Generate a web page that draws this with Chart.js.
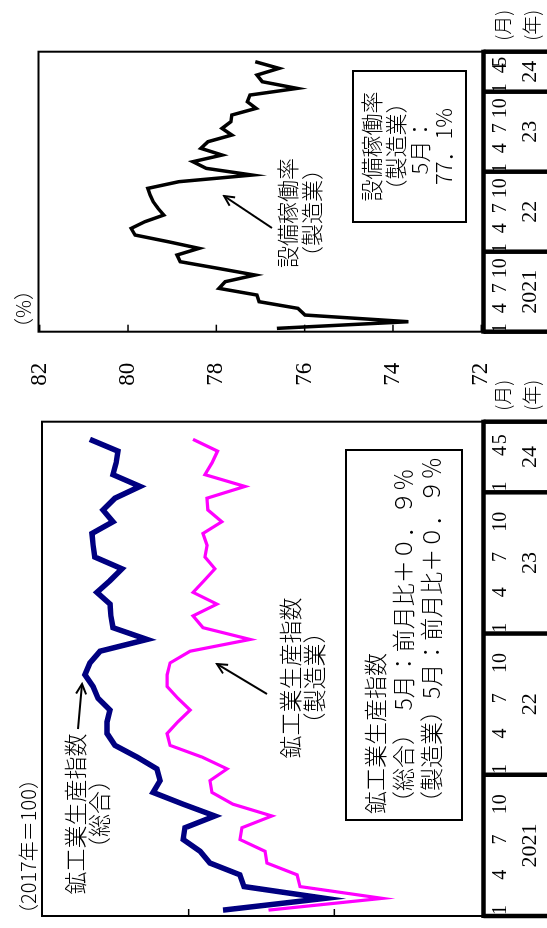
<!DOCTYPE html>
<html lang="ja">
<head>
<meta charset="utf-8">
<title>鉱工業生産指数・設備稼働率</title>
<script src="https://cdn.jsdelivr.net/npm/chart.js@4.4.1/dist/chart.umd.min.js"></script>
<style>
  html, body { margin: 0; padding: 0; background: #fff; }
  body { width: 547px; height: 928px; overflow: hidden; position: relative; }
  /* 横長の図を作って左へ90度回転させる */
  #stage {
    position: absolute; left: 0; top: 0;
    width: 928px; height: 547px;
    transform-origin: 0 0;
    transform: translateY(928px) rotate(-90deg);
    font-family: "Noto Sans CJK JP", sans-serif;
    font-weight: 300;
    color: #000;
  }
  #stage canvas { position: absolute; top: 0; }
  .note { position: absolute; white-space: nowrap; line-height: 1; text-align: center; }
  .box { position: absolute; border: 2px solid #000; box-sizing: border-box; background: #fff; }
  #arrows { position: absolute; left: 0; top: 0; }
</style>
</head>
<body>
<div id="stage">
  <canvas id="iipChart" width="580" height="547" style="left:0"></canvas>
  <canvas id="cuChart" width="408" height="547" style="left:520px"></canvas>

  <div class="note" style="left:4px; top:18px; font-size:20px;">（2017年＝100）</div>

  <div class="note" style="left:32px; top:62px; width:164px; font-size:23px; line-height:24px;">鉱工業生産指数<br>（総合）</div>
  <div class="note" style="left:168px; top:277px; width:164px; font-size:23px; line-height:24px;">鉱工業生産指数<br>（製造業）</div>

  <div class="box" style="left:107px; top:345px; width:372px; height:118px; padding:13px 0 0 5px; font-size:23px; line-height:28px;">
    鉱工業生産指数<br>（総合）　5月：前月比＋０．９％<br>（製造業）5月：前月比＋０．９％
  </div>

  <div class="note" style="left:590px; top:13px; font-size:20px;">（%）</div>
  <div class="note" style="left:659px; top:274px; width:112px; font-size:22px; line-height:24px;">設備稼働率<br>（製造業）</div>
  <div class="box" style="left:705px; top:352px; width:153px; height:115px; padding-top:4px; text-align:center; font-size:22px; line-height:24px;">
    設備稼働率<br>（製造業）<br>5月：<br>77．1%
  </div>

  <svg id="arrows" width="928" height="547">
    <defs>
      <marker id="head" markerWidth="14" markerHeight="14" refX="12" refY="7" orient="auto" markerUnits="userSpaceOnUse">
        <path d="M2,2 L12,7 L2,12" fill="none" stroke="#000" stroke-width="2"/>
      </marker>
    </defs>
    <line x1="199" y1="78" x2="244" y2="82" stroke="#000" stroke-width="2" marker-end="url(#head)"/>
    <line x1="234" y1="267" x2="264" y2="217" stroke="#000" stroke-width="2" marker-end="url(#head)"/>
    <line x1="700" y1="272" x2="732" y2="224" stroke="#000" stroke-width="2" marker-end="url(#head)"/>
  </svg>
</div>

<script>
// ===== データ（2021年1月～2024年5月、目盛り枠は6月まで） =====
const MONTHS = [
    '2021-01', '2021-02', '2021-03', '2021-04', '2021-05', '2021-06',
    '2021-07', '2021-08', '2021-09', '2021-10', '2021-11', '2021-12',
    '2022-01', '2022-02', '2022-03', '2022-04', '2022-05', '2022-06',
    '2022-07', '2022-08', '2022-09', '2022-10', '2022-11', '2022-12',
    '2023-01', '2023-02', '2023-03', '2023-04', '2023-05', '2023-06',
    '2023-07', '2023-08', '2023-09', '2023-10', '2023-11', '2023-12',
    '2024-01', '2024-02', '2024-03', '2024-04', '2024-05', '2024-06'
];

// 月の目盛りラベル（MONTHS と同じ並び）
const MONTH_TICK_LABELS = [
    '1', '', '', '4', '', '', '7', '', '', '10', '', '',
    '1', '', '', '4', '', '', '7', '', '', '10', '', '',
    '1', '', '', '4', '', '', '7', '', '', '10', '', '',
    '1', '', '', '4', '5', ''
];

const YEAR_LABELS = ['2021', '22', '23', '24'];
const YEAR_FIRST_INDEX = [0, 12, 24, 36];

// 鉱工業生産指数（総合）
const IIP_TOTAL = [
    98.82, 95.32, 98.10, 98.24, 99.27, 99.61, 100.19, 100.13, 99.10, 100.19, 101.22, 100.98,
    101.09, 101.77, 102.53, 102.80, 102.80, 102.70, 103.11, 103.28, 103.56, 103.39, 103.04, 101.43,
    102.60, 102.67, 102.70, 103.15, 102.70, 102.29, 103.22, 103.28, 103.32, 102.60, 102.94, 102.53,
    101.67, 102.60, 102.49, 102.43, 103.39
];

// 鉱工業生産指数（製造業）
const IIP_MFG = [
    97.26, 93.36, 96.18, 96.28, 97.31, 97.38, 98.24, 98.17, 97.14, 98.48, 99.20, 99.27,
    98.68, 99.54, 100.64, 100.74, 100.37, 99.95, 100.37, 100.74, 100.74, 100.64, 99.95, 97.89,
    99.51, 99.85, 99.03, 99.85, 99.47, 99.10, 99.44, 99.37, 99.51, 98.86, 99.34, 99.37,
    98.07, 99.44, 99.20, 99.01, 99.85
];

// 設備稼働率（製造業、%）
const CU_MFG = [
    76.63, 73.65, 75.99, 76.15, 77.03, 77.08, 77.94, 77.80, 77.12, 77.96, 78.82, 78.89,
    78.39, 79.09, 79.84, 79.93, 79.62, 79.19, 79.32, 79.43, 79.50, 79.55, 78.85, 77.19,
    78.23, 78.53, 77.87, 78.35, 78.19, 77.65, 77.87, 77.67, 77.65, 77.10, 77.30, 77.24,
    76.17, 76.96, 77.08, 76.58, 77.12
];

const IIP_RANGE = [90, 105];
const IIP_TICKS = [95, 100];
const CU_RANGE = [72, 82];
const CU_TICKS = [72, 74, 76, 78, 80, 82];

// ===== 枠・軸 =====
function strokeLine(ctx, x1, y1, x2, y2) {
    ctx.beginPath();
    ctx.moveTo(x1, y1);
    ctx.lineTo(x2, y2);
    ctx.stroke();
}

const frameAxisPlugin = {
    id: 'frameAxis',
    afterDatasetsDraw(chart, args, opts) {
        const { ctx, chartArea: a } = chart;
        const x = chart.scales.x;
        const y = chart.scales.y;
        const half = (x.getPixelForValue(1) - x.getPixelForValue(0)) / 2;
        const axisY = a.bottom + opts.axisGap;

        ctx.save();
        ctx.strokeStyle = '#000';
        ctx.fillStyle = '#000';

        // 枠（上・左・右）
        ctx.lineWidth = 2;
        ctx.strokeRect(a.left, opts.frameTop, a.right - a.left, axisY - opts.frameTop);

        // 横軸の太線と年の区切り
        ctx.lineWidth = 4.5;
        strokeLine(ctx, a.left - 2, axisY, a.right + 2, axisY);
        const bounds = YEAR_FIRST_INDEX.map(i => x.getPixelForValue(i) - half);
        bounds.push(x.getPixelForValue(MONTHS.length - 1) + half);
        bounds.forEach(px => strokeLine(ctx, px, axisY, px, chart.height));

        // 内向きの目盛り
        ctx.lineWidth = 1.5;
        opts.ticks.forEach(v => {
            const py = y.getPixelForValue(v);
            strokeLine(ctx, a.left, py, a.left + 7, py);
        });

        // 月・年ラベル
        ctx.textAlign = 'center';
        ctx.textBaseline = 'middle';
        ctx.font = '20px "Liberation Serif", serif';
        MONTH_TICK_LABELS.forEach((t, i) => {
            if (t) ctx.fillText(t, x.getPixelForValue(i), 501);
        });
        ctx.font = '22px "Liberation Serif", serif';
        YEAR_LABELS.forEach((t, j) => {
            ctx.fillText(t, (bounds[j] + bounds[j + 1]) / 2, 530);
        });

        ctx.textAlign = 'left';
        ctx.font = '300 19px "Noto Sans CJK JP", sans-serif';
        ctx.fillText('(月)', a.right + 11, 503);
        ctx.fillText('(年)', a.right + 11, 532);

        // 縦軸ラベル
        if (opts.showYLabels) {
            ctx.textAlign = 'right';
            ctx.font = '23px "Liberation Serif", serif';
            opts.ticks.forEach(v => {
                ctx.fillText(String(v), a.left - 31, y.getPixelForValue(v));
            });
        }
        ctx.restore();
    }
};

function makeChart(canvasId, datasets, range, padding, frameOpts) {
    return new Chart(document.getElementById(canvasId), {
        type: 'line',
        data: { labels: MONTHS, datasets: datasets },
        options: {
            responsive: false,
            animation: false,
            devicePixelRatio: 1,
            layout: { padding: padding },
            scales: {
                x: { type: 'category', offset: true, display: false },
                y: { min: range[0], max: range[1], display: false }
            },
            elements: {
                point: { radius: 0 },
                line: { tension: 0, borderJoinStyle: 'miter' }
            },
            plugins: {
                legend: { display: false },
                tooltip: { enabled: false },
                frameAxis: frameOpts
            }
        },
        plugins: [frameAxisPlugin]
    });
}

// 鉱工業生産指数
makeChart('iipChart', [
    { label: '鉱工業生産指数（製造業）', data: IIP_MFG, borderColor: '#ff00ff', borderWidth: 3.2 },
    { label: '鉱工業生産指数（総合）', data: IIP_TOTAL, borderColor: '#000080', borderWidth: 5.5 }
], IIP_RANGE, { left: 12, right: 73.7, top: 43, bottom: 67 },
{ axisGap: 3.5, frameTop: 42, ticks: IIP_TICKS, showYLabels: false });

// 設備稼働率
makeChart('cuChart', [
    { label: '設備稼働率（製造業）', data: CU_MFG, borderColor: '#000', borderWidth: 3.5 }
], CU_RANGE, { left: 76.3, right: 51.7, top: 39.7, bottom: 65.7 },
{ axisGap: 2.2, frameTop: 38.5, ticks: CU_TICKS, showYLabels: true });
</script>
</body>
</html>
